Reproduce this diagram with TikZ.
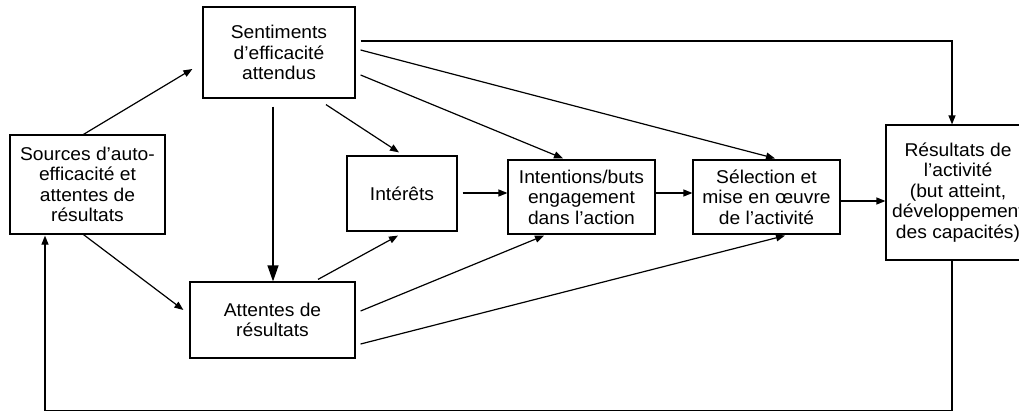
\documentclass[tikz,border=0pt]{standalone}
\usepackage{fontspec}
\setmainfont[FakeStretch=1.04]{Liberation Sans}
\usetikzlibrary{arrows.meta,calc}
\begin{document}
\begin{tikzpicture}[x=1pt,y=-1pt,
  box/.style={draw=black,line width=1.2pt,inner sep=0pt,align=center,
    font=\fontsize{18.5}{20.5}\selectfont},
  conn/.style={line width=1.2pt,-{Triangle[length=9pt,width=7pt]}},
  bigconn/.style={line width=1.2pt,-{Triangle[length=16pt,width=11pt]}}]
\useasboundingbox (0,0) rectangle (1019,412);
\fill[white] (0,0) rectangle (1019,412);
\node[box,minimum width=152pt,minimum height=91pt] (sent) at (279,52.5) {Sentiments\\d’efficacité\\attendus};
\node[box,minimum width=155pt,minimum height=99pt] (src) at (87.5,184.5) {Sources d’auto-\\efficacité et\\attentes de\\résultats};
\node[box,minimum width=110pt,minimum height=75pt] (int) at (402,193.5) {Intérêts};
\node[box,minimum width=165pt,minimum height=76pt] (att) at (272.5,320) {Attentes de\\résultats};
\node[box,minimum width=147pt,minimum height=74pt] (intn) at (581.5,197) {Intentions/buts\\engagement\\dans l’action};
\node[box,minimum width=147pt,minimum height=74pt] (sel) at (766.5,197) {Sélection et\\mise en œuvre\\de l’activité};
\node[box,minimum width=144pt,minimum height=135pt] (res) at (958,192.5) {Résultats de\\l’activité\\(but atteint,\\développement\\des capacités)};
% connectors
\draw[conn] ($(src.north)+(-4,0)$) -- ($(sent.west)+(-10,16.5)$);
\draw[conn] ($(src.south)+(-4,0)$) -- ($(att.west)+(-6,-10)$);
\draw[bigconn] ($(sent.south)+(-6,8)$) -- ($(att.north)+(0.5,0)$);
\draw[conn] ($(sent.south)+(47,6)$) -- ($(int.north)+(-3,-3)$);
\draw[conn] ($(att.north)+(45.5,-2)$) -- ($(int.south)+(-4,4)$);
\draw[conn] ($(int.east)+(5,-0.5)$) -- ($(intn.west)+(0,-4)$);
\draw[conn] ($(sent.east)+(5,22.5)$) -- ($(intn.north)+(-18.5,-1)$);
\draw[conn] ($(sent.east)+(5,-2.5)$) -- ($(sel.north)+(8.5,-1)$);
\draw[conn] ($(sent.east)+(5,-11.5)$) -| ($(res.north)+(-6,0)$);
\draw[conn] ($(att.east)+(5,-9)$) -- ($(intn.south)+(-37.5,1)$);
\draw[conn] ($(att.east)+(5,24)$) -- ($(sel.south)+(18.5,1)$);
\draw[conn] ($(intn.east)+(0,-4)$) -- ($(sel.west)+(0,-4)$);
\draw[conn] ($(sel.east)+(0,4)$) -- ($(res.west)+(0,8.5)$);
\coordinate (br) at ($(res.south)+(-6,150)$);
\draw[conn] ($(res.south)+(-6,0)$) -- (br) -| ($(src.south)+(-42.5,1)$);
\end{tikzpicture}
\end{document}
